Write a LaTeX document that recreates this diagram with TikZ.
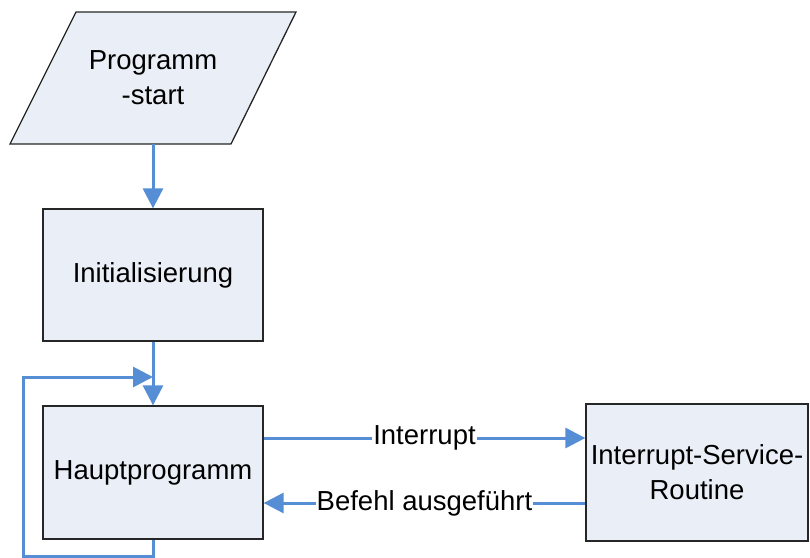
\documentclass[tikz,border=0pt]{standalone}
\usepackage{fontspec}
\setmainfont{Liberation Sans}
\usetikzlibrary{arrows.meta}
\definecolor{boxfill}{HTML}{EAEFF7}
\definecolor{arr}{HTML}{558ED5}
\begin{document}
\begin{tikzpicture}[x=1pt,y=-1pt,
  txt/.style={font=\fontsize{27.5}{35}\selectfont, align=center},
  box/.style={txt, draw=black!85, line width=1.3pt, fill=boxfill, minimum width=220pt, minimum height=132pt, inner sep=0pt},
  conn/.style={draw=arr, line width=3pt, -{Triangle[length=20pt,width=20pt]}},
  lbl/.style={txt, fill=white, inner sep=1pt}]
\useasboundingbox (0,0) rectangle (810,557);
% start parallelogram
\path[fill=boxfill, draw=black!85, line width=1.3pt] (76,12) -- (296,12) -- (231,144) -- (10,144) -- cycle;
\node[txt, minimum width=220pt, minimum height=132pt, inner sep=0pt] (start) at (153,78) {Programm\\-start};
\node[box] (init) at (153,275) {Initialisierung};
\node[box, minimum height=133pt] (haupt) at (153,472.5) {Hauptprogramm};
\node[box, minimum width=222pt, minimum height=137pt] (isr) at (697,472.5) {Interrupt-Service-\\Routine};
\coordinate (loopend) at (153,377);
\draw[conn] (start.south) -- (init.north);
\draw[conn] (init.south) -- (haupt.north);
\draw[conn] (haupt.south) |- (23,556) -- (23,377) -- (loopend);
\draw[conn] ([yshift=34.5pt]haupt.east) -- node[lbl] {Interrupt} ([yshift=34.5pt]isr.west);
\draw[conn] ([yshift=-30.5pt]isr.west) -- node[lbl] {Befehl ausgeführt} ([yshift=-30.5pt]haupt.east);
\end{tikzpicture}
\end{document}
